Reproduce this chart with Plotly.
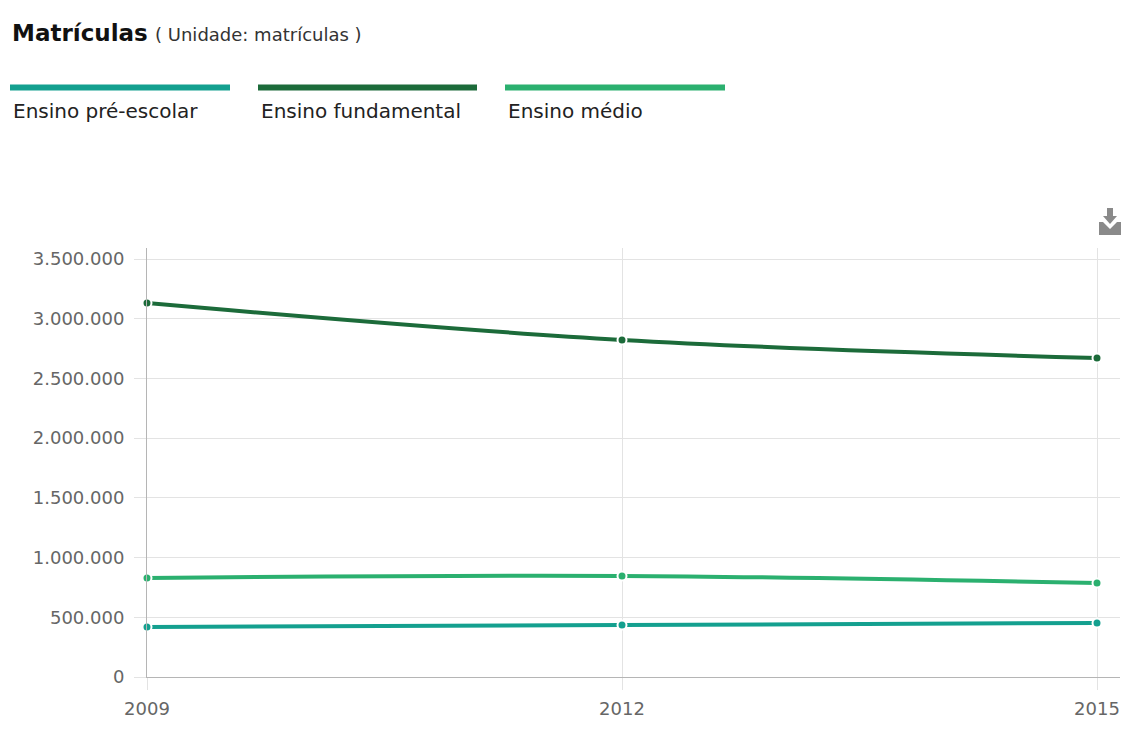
import plotly.graph_objects as go

years = [2009, 2012, 2015]
series_names = ["Ensino pré-escolar", "Ensino fundamental", "Ensino médio"]
pre_escolar = [419000, 435000, 452000]
fundamental = [3131000, 2822000, 2671000]
medio = [829000, 846000, 787000]
y_ticks = [0, 500000, 1000000, 1500000, 2000000, 2500000, 3000000, 3500000]
x_ticks = [2009, 2012, 2015]

colors = ["#14a08f", "#1c6b3a", "#2bb06f"]
W, H = 1123, 729
ML, MR, MT, MB = 147, 3, 248, 52
PW, PH = W - ML - MR, H - MT - MB


def px(x):
    return (x - ML) / PW


def py(y):
    return (H - MB - y) / PH


fig = go.Figure()
for name, vals, c in zip(series_names, [pre_escolar, fundamental, medio], colors):
    fig.add_trace(go.Scatter(
        x=years, y=vals, name=name, mode="lines+markers",
        line=dict(color=c, width=4, shape="spline", smoothing=1),
        marker=dict(size=9, color=c, line=dict(color="white", width=2)),
        cliponaxis=False,
    ))

shapes = []
annotations = []
# Title
annotations.append(dict(
    x=px(10), y=py(33), xref="paper", yref="paper", xanchor="left", yanchor="middle",
    text="<b>Matrículas</b> <span style='font-size:18px;color:#333'>( Unidade: matrículas )</span>",
    showarrow=False, font=dict(family="DejaVu Sans", size=23, color="#111")))
# Custom legend
leg_x = [(10, 230), (258, 477), (505, 725)]
for (x0, x1), name, c in zip(leg_x, series_names, colors):
    shapes.append(dict(type="rect", xref="paper", yref="paper",
                       x0=px(x0), x1=px(x1), y0=py(90.5), y1=py(84.5),
                       fillcolor=c, line=dict(width=0)))
    annotations.append(dict(
        x=px(x0 + 1), y=py(111), xref="paper", yref="paper", xanchor="left", yanchor="middle",
        text=name, showarrow=False, font=dict(family="DejaVu Sans", size=20, color="#222")))
# Download icon
icon = (f"M {px(1107)} {py(208)} L {px(1113)} {py(208)} L {px(1113)} {py(216)} L {px(1117)} {py(216)} "
        f"L {px(1110)} {py(224)} L {px(1103)} {py(216)} L {px(1107)} {py(216)} Z "
        f"M {px(1099)} {py(222)} L {px(1103)} {py(222)} L {px(1110)} {py(229)} L {px(1117)} {py(222)} "
        f"L {px(1121)} {py(222)} L {px(1121)} {py(235)} L {px(1099)} {py(235)} Z")
shapes.append(dict(type="path", xref="paper", yref="paper", path=icon,
                   fillcolor="#8a8a8a", line=dict(width=0)))

fig.update_layout(
    width=W, height=H,
    margin=dict(l=ML, r=MR, t=MT, b=MB),
    paper_bgcolor="white", plot_bgcolor="white",
    showlegend=False,
    separators=",.",
    shapes=shapes, annotations=annotations,
    font=dict(family="DejaVu Sans", color="#666"),
)
fig.update_xaxes(
    range=[2009, 2015 + 23 / 950 * 6], tickvals=x_ticks, ticktext=[str(v) for v in x_ticks],
    showgrid=True, gridcolor="#e3e3e3", gridwidth=1,
    ticks="outside", ticklen=12, tickcolor="#e3e3e3",
    showline=True, linecolor="#b5b5b5", linewidth=1, zeroline=False,
    tickfont=dict(family="DejaVu Sans", size=18, color="#666"),
    ticklabelstandoff=3,
)
fig.update_yaxes(
    range=[0, 3500000 * 429 / 418], tickvals=y_ticks, tickformat=",d",
    showgrid=True, gridcolor="#e3e3e3", gridwidth=1,
    ticks="outside", ticklen=12, tickcolor="#e3e3e3",
    showline=True, linecolor="#b5b5b5", linewidth=1, zeroline=False,
    tickfont=dict(family="DejaVu Sans", size=18, color="#666"),
    ticklabelstandoff=6,
)
fig.write_html("out.html")
